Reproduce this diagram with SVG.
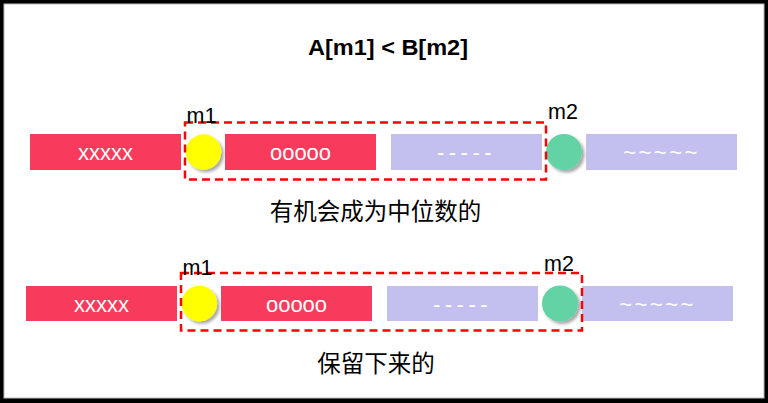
<svg xmlns="http://www.w3.org/2000/svg" width="768" height="403" viewBox="0 0 768 403">
<style>
.bar-a{fill:#F83A5C}
.bar-b{fill:#C3BFEE}
.bt{font-family:"Liberation Sans","Noto Sans CJK SC",sans-serif;font-size:22px;fill:#FFFFFF;text-anchor:middle}
.lbl{font-family:"Liberation Sans","Noto Sans CJK SC",sans-serif;font-size:21.5px;fill:#000000}
.cn{font-family:"Noto Sans CJK SC",sans-serif;font-size:23.5px;fill:#000000;text-anchor:middle}
.title{font-family:"Liberation Sans",sans-serif;font-size:22px;font-weight:bold;fill:#000000;text-anchor:middle}
.box{fill:none;stroke:#FF0000;stroke-width:2.5;stroke-dasharray:8 5}
.y{fill:#FFFF00}
.g{fill:#64D2A4}
</style>
<defs>
<filter id="sh" x="-30%" y="-30%" width="170%" height="170%">
<feDropShadow dx="2.5" dy="2.5" stdDeviation="1.8" flood-color="#000" flood-opacity="0.35"/>
</filter>
</defs>
<rect x="0" y="0" width="768" height="403" fill="#000000"/>
<rect x="4" y="4" width="760" height="394" fill="#FFFFFF" stroke="#BBBBBB" stroke-width="1"/>
<text class="title" x="388" y="55" textLength="160" lengthAdjust="spacingAndGlyphs">A[m1] &lt; B[m2]</text>

<g id="row1">
<g id="r1-a1"><rect class="bar-a" x="30" y="134" width="151" height="36"/><text class="bt" x="105.5" y="160">xxxxx</text></g>
<g id="r1-m1"><circle class="y" cx="203.5" cy="152" r="17.7" filter="url(#sh)"/></g>
<g id="r1-a2"><rect class="bar-a" x="225" y="134" width="151" height="36"/><text class="bt" x="300.5" y="160">ooooo</text></g>
<g id="r1-b1"><rect class="bar-b" x="391" y="134" width="151" height="36"/><text class="bt" x="466.5" y="160" letter-spacing="4.5">-----</text></g>
<g id="r1-m2"><circle class="g" cx="564" cy="152" r="18" filter="url(#sh)"/></g>
<g id="r1-b2"><rect class="bar-b" x="586" y="134" width="151" height="36"/><text class="bt" x="661.5" y="160" letter-spacing="2.5">~~~~~</text></g>
<g id="r1-box"><rect class="box" x="185" y="122.5" width="361" height="57"/></g>
<text class="lbl" x="186.5" y="122.5">m1</text>
<text class="lbl" x="548" y="119">m2</text>
<text class="cn" x="375.5" y="220">有机会成为中位数的</text>
</g>

<g id="row2">
<g id="r2-a1"><rect class="bar-a" x="26" y="286" width="151" height="35"/><text class="bt" x="101.5" y="311.5">xxxxx</text></g>
<g id="r2-m1"><circle class="y" cx="199.3" cy="303.5" r="17.8" filter="url(#sh)"/></g>
<g id="r2-a2"><rect class="bar-a" x="221" y="286" width="151" height="35"/><text class="bt" x="296.5" y="311.5">ooooo</text></g>
<g id="r2-b1"><rect class="bar-b" x="387" y="286" width="151" height="35"/><text class="bt" x="462.5" y="311.5" letter-spacing="4.5">-----</text></g>
<g id="r2-m2"><circle class="g" cx="560" cy="303.5" r="18" filter="url(#sh)"/></g>
<g id="r2-b2"><rect class="bar-b" x="582" y="286" width="151" height="35"/><text class="bt" x="657.5" y="311.5" letter-spacing="2.5">~~~~~</text></g>
<g id="r2-box"><rect class="box" x="181" y="273" width="401" height="57.5"/></g>
<text class="lbl" x="182.5" y="275">m1</text>
<text class="lbl" x="544" y="271">m2</text>
<text class="cn" x="376" y="371.5">保留下来的</text>
</g>
</svg>
